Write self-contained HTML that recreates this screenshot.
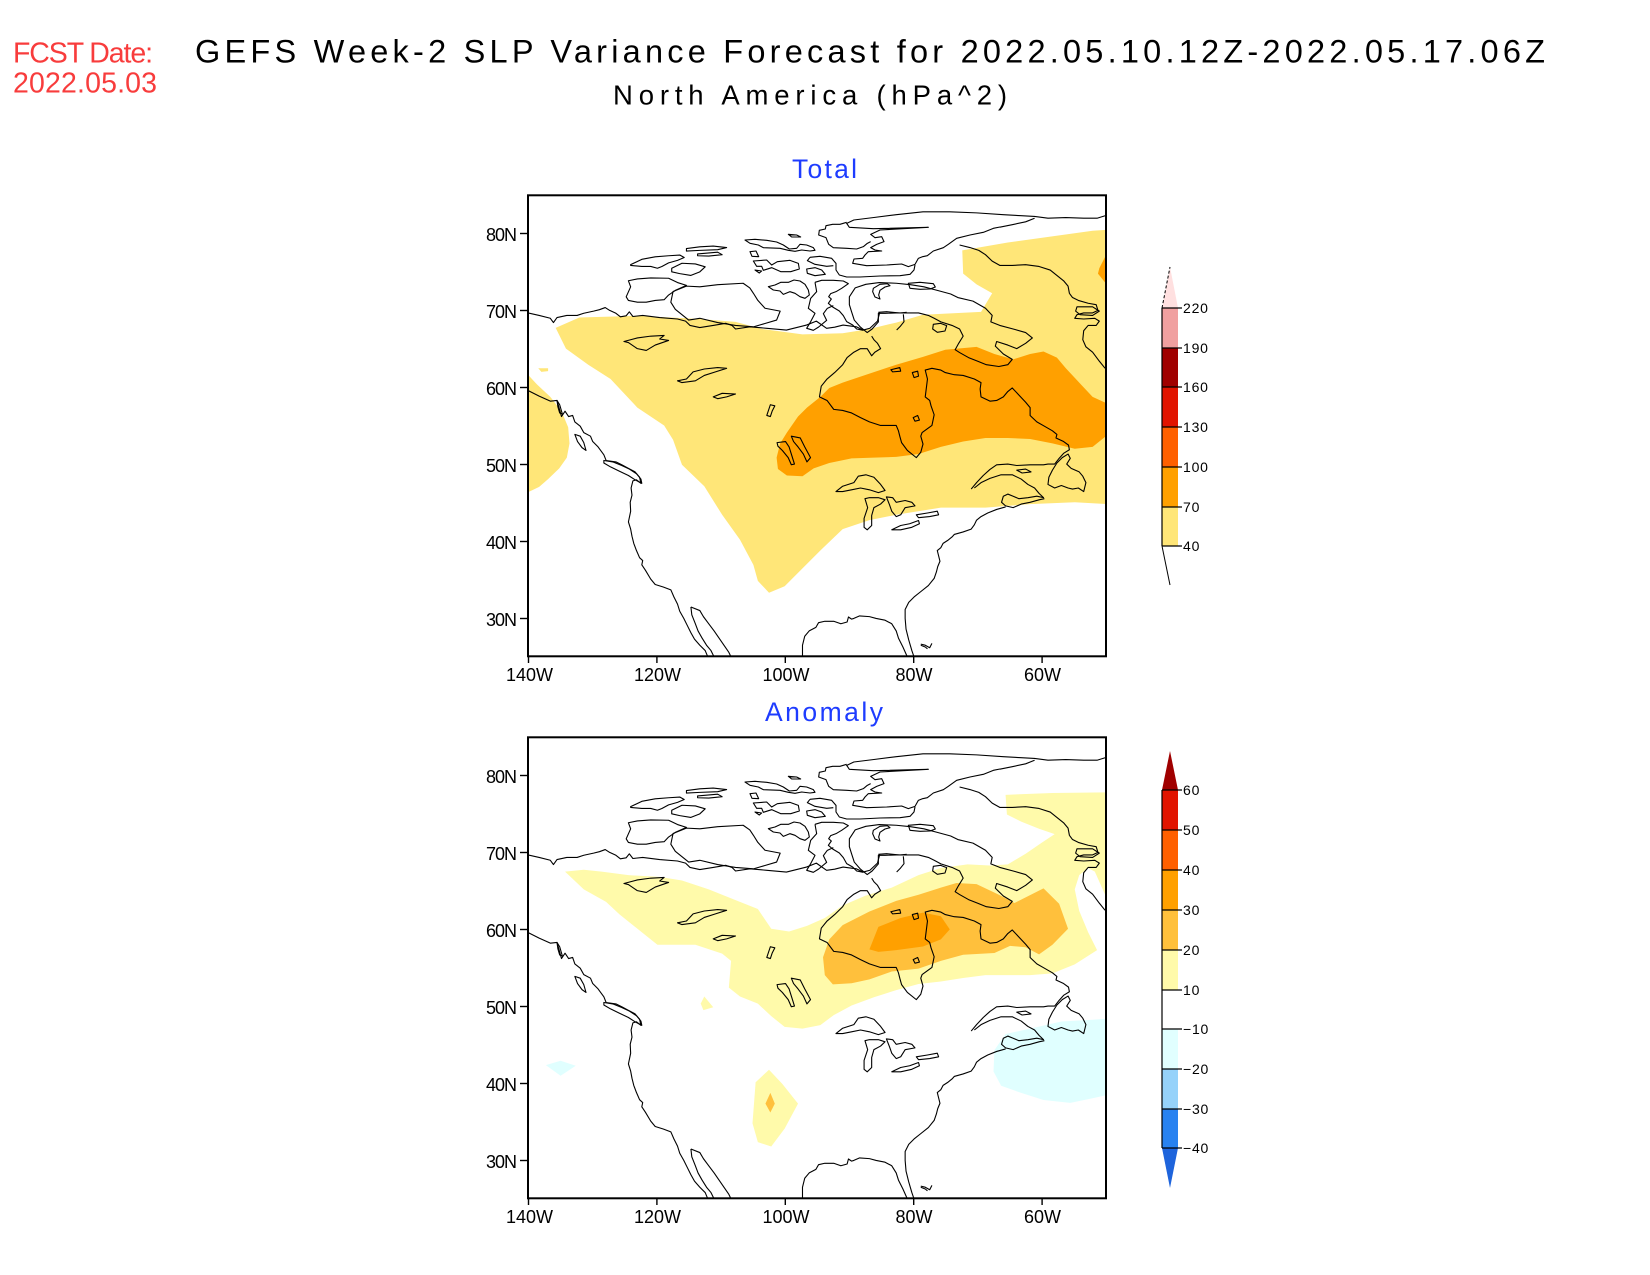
<!DOCTYPE html>
<html>
<head>
<meta charset="utf-8">
<style>
html,body{margin:0;padding:0;background:#fff;}
svg{display:block;}
text{font-family:"Liberation Sans",Arial,sans-serif;}
.cst polyline,.cst polygon{fill:none;stroke:#000;stroke-width:1.1;vector-effect:non-scaling-stroke;stroke-linejoin:round;}
.tk{stroke:#000;stroke-width:1.4;}
.ax{font-size:18px;fill:#000;}
.cb{font-size:14px;fill:#000;letter-spacing:0.8px;}
</style>
</head>
<body>
<svg width="1650" height="1275" viewBox="0 0 1650 1275" xmlns="http://www.w3.org/2000/svg">
<defs>
  <clipPath id="c1"><rect x="528" y="195" width="578" height="462"/></clipPath>
  <clipPath id="c2"><rect x="528" y="737" width="578" height="462"/></clipPath>

  <g id="coastA" class="cst">
    <polyline points="175,455 200,462 225,470 232,482 240,468 262,462 285,462 300,456 322,450 335,446 348,440 358,448 372,456 382,466 395,463 402,452 410,465 432,462 470,468 510,472 528,478 538,490 560,496 590,490 618,484 632,490 640,500 672,494 710,498 754,503 780,495 799,489 821,478 844,498 862,495 881,489 911,494 926,503 941,498 958,478 963,454"/>
    <polyline points="945,520 950,530 958,540 965,555 952,565 945,575 935,555 920,555 905,565 890,580 880,600 862,622 845,640 832,660 828,690 845,700 860,725 880,728 900,735 920,748 940,760 965,770 1000,770 1005,785 1008,800 1012,818 1025,840 1045,860 1055,845 1060,822 1055,800 1058,790 1080,770 1085,740 1078,715 1075,700 1065,690 1068,660 1070,640 1065,615 1080,610 1100,615 1110,622 1130,628 1150,630 1175,640 1190,650 1188,668 1190,690 1210,702 1225,700 1240,690 1250,675 1260,665 1275,685 1290,705 1300,720 1300,742 1315,760 1332,772 1350,785 1360,795 1358,805 1375,815 1386,825 1388,838 1375,848 1365,862 1355,878 1340,878 1330,880 1300,880 1270,882 1250,878 1225,880 1210,893 1195,910 1180,930 1168,948"/>
    <polyline points="1175,945 1190,930 1210,918 1235,908 1260,908 1280,920 1295,935 1310,945 1320,960 1330,972 1315,968 1295,972 1275,975 1262,968 1250,962 1240,968 1236,985 1245,995 1262,1000 1280,990 1300,985 1320,978 1332,975"/>
    <polyline points="1245,998 1225,1005 1205,1015 1190,1025 1180,1035 1175,1048 1168,1060 1150,1068 1130,1075 1125,1082 1115,1092 1105,1100 1100,1112 1092,1120 1095,1135 1098,1150 1093,1165 1090,1180 1085,1198 1072,1218 1055,1235 1040,1250 1028,1265 1020,1285 1020,1310 1022,1340 1028,1370 1035,1400 1040,1418"/>
    <polyline points="790,1418 790,1385 795,1360 805,1345 820,1335 826,1322 840,1318 860,1318 876,1325 890,1320 893,1306 900,1312 905,1310 918,1303 940,1305 955,1310 975,1315 990,1325 1000,1345 1005,1365 1015,1390 1025,1418"/>
    <polyline points="175,672 200,688 225,702 240,700 244,718 250,745 258,730 266,745 275,742 280,760 292,772 300,790 315,800 320,815 332,830 345,852 350,868 372,872 385,880 400,890 415,900 425,915 428,932 418,922 410,925 406,945 408,965 404,985 405,1010 400,1040 405,1060 408,1080 412,1100 418,1120 425,1140 432,1148 430,1160 438,1175 450,1200 460,1215 478,1222 495,1230 502,1250 510,1270 515,1290 524,1310 532,1330 540,1350 548,1368 560,1385 572,1400 578,1418"/>
    <polyline points="540,1278 542,1300 550,1325 556,1345 565,1365 575,1385 585,1400 592,1418"/>
    <polyline points="540,1278 560,1288 568,1305 580,1325 592,1345 603,1365 614,1385 625,1405 630,1418"/>
    <polygon points="345,868 365,872 385,882 402,892 418,905 428,920 430,932 415,922 400,910 380,898 360,886 345,875"/>
    <polygon points="280,795 292,800 300,818 305,840 296,832 286,815"/>
    <polygon points="240,700 246,712 252,738 246,735 242,718"/>
    <polygon points="1340,935 1342,915 1350,895 1360,875 1372,860 1385,850 1390,862 1382,878 1392,890 1410,900 1418,912 1425,930 1420,955 1408,945 1395,948 1385,945 1370,938 1355,945"/>
    <polygon points="1270,895 1290,892 1302,900 1282,903"/>
    <polygon points="865,955 880,940 905,930 915,912 932,908 950,915 965,935 975,952 960,958 940,950 920,945 900,950 880,955"/>
    <polygon points="930,975 936,1000 928,1030 928,1055 935,1062 945,1050 945,1022 950,1000 965,990 975,978 960,972 940,972"/>
    <polygon points="978,970 992,972 1000,985 1020,980 1035,985 1042,995 1020,1000 1010,1020 1000,1025 990,1010 985,992"/>
    <polygon points="990,1062 1010,1050 1030,1045 1050,1036 1052,1045 1035,1055 1010,1062"/>
    <polygon points="1045,1020 1070,1015 1092,1010 1095,1020 1075,1025 1050,1028"/>
    <polygon points="733,818 752,815 760,830 765,850 772,878 765,880 758,860 745,840 735,828"/>
    <polygon points="765,800 785,805 795,830 808,860 800,872 792,850 780,830 770,815"/>
    <polygon points="510,645 530,640 545,620 570,612 600,608 620,610 595,620 570,630 550,645 520,650"/>
    <polygon points="390,535 420,525 450,520 480,518 470,528 490,532 460,545 440,560 420,555 400,538"/>
    <polygon points="590,690 610,680 640,682 620,690 600,695"/>
    <polygon points="710,742 718,712 728,715 722,730 718,745"/>
    <polygon points="988,614 1008,608 1010,618 992,620"/>
    <polygon points="1036,622 1048,618 1050,632 1040,636"/>
    <polygon points="1038,748 1048,742 1052,755 1042,758"/>
    <polyline points="1055,1382 1065,1385 1075,1392 1080,1380"/>
    <polyline points="1055,1385 1065,1390 1070,1395"/>
    <polygon points="405,320 430,305 460,298 490,295 515,293 525,300 510,308 490,315 475,325 465,330 450,325 430,325 405,322"/>
    <polygon points="530,275 560,270 590,268 620,272 600,278 560,280 530,282"/>
    <polygon points="555,290 600,285 610,292 580,296 555,295"/>
    <polygon points="497,330 520,316 550,318 572,326 560,340 540,350 515,345 497,340"/>
    <polygon points="395,410 405,382 400,365 420,360 450,357 490,358 510,370 530,378 505,392 490,405 480,418 460,420 440,425 420,425 400,420"/>
    <polygon points="500,395 530,380 560,382 600,376 657,372 672,385 680,400 690,420 706,442 740,450 732,475 705,485 680,494 640,490 600,482 560,470 535,475 520,460 505,445 495,425"/>
    <polyline points="1020,455 1050,455 1072,462 1085,470 1100,480 1125,490 1142,500 1150,520 1140,540 1132,558 1142,566 1162,580 1182,590 1202,600 1230,605 1250,600 1260,585 1240,570 1222,548 1225,535 1250,545 1270,555 1290,540 1305,525 1290,510 1262,500 1232,490 1212,480 1215,462 1200,442 1172,422 1138,412 1122,402 1092,392 1062,382 1032,376 1000,372 962,370 932,375 908,385 895,410 895,432 900,452 906,475 920,495 935,510 946,500 960,480 960,456 975,456 1000,455 1020,455"/>
    <polyline points="888,205 905,195 950,188 1000,180 1060,172 1120,172 1180,175 1240,180 1280,183 1310,185 1340,190 1380,188 1420,190 1450,190 1468,183"/>
    <polyline points="1232,215 1260,208 1290,200 1310,190"/>
    <polyline points="1142,265 1165,272 1185,280 1200,292 1215,310 1232,322 1260,322 1290,320 1320,325 1345,335 1360,350 1375,365 1385,380 1388,400 1395,412 1408,420 1430,428 1448,432 1452,448 1440,455 1420,455 1405,460 1400,470 1420,472 1445,470 1455,478 1448,490 1430,490 1420,505 1418,530 1425,550 1440,565 1455,590 1468,610"/>
    <polygon points="1405,438 1440,438 1455,450 1440,462 1412,460 1402,450"/>
  </g>

  <g id="coastB" class="cst">
    <polyline points="440,85 448,97 520,101 685,97 540,105 512,118 525,128 545,125 552,140 530,148 512,158 525,165 545,168 505,170 495,180 488,190 462,192 458,205 500,212 560,210 605,207 625,215 645,208 655,190 668,185 682,182 700,168 730,158 745,148 770,130 810,120 850,112 880,100 900,96"/>
    <polyline points="440,82 420,88 398,88 378,92 376,102 358,106 356,120 378,128 386,148 400,158 440,160 470,162 490,155 502,145 512,140"/>
    <polyline points="330,187 360,184 395,190 408,205 408,225 418,240 440,246 480,246 540,243 600,242 630,238 642,225 645,210"/>
    <polyline points="330,187 322,197 345,208 380,214 400,212"/>
    <polygon points="135,135 165,133 200,136 230,141 250,150 268,162 290,160 300,148 320,150 340,158 345,166 330,168 305,165 285,169 265,166 240,160 190,158 175,150 150,145"/>
    <polygon points="265,118 290,120 302,126 275,126"/>
    <polygon points="160,198 200,195 215,210 232,200 270,196 295,205 298,222 272,230 242,230 215,218 190,226 185,214 170,214"/>
    <polygon points="150,170 168,168 176,185 156,184"/>
    <polygon points="165,225 185,228 178,234"/>
    <polygon points="320,222 345,218 365,225 376,238 345,242 322,235"/>
    <polygon points="205,275 225,270 242,262 265,262 282,255 300,258 315,268 325,285 328,300 315,310 300,305 285,295 270,290 250,298 240,288 220,285"/>
    <polyline points="345,262 365,256 400,256 430,258 445,266 425,280 408,290 392,296 386,305 394,312 385,325 398,336 418,348 430,362 440,380 458,390 470,402 490,406"/>
    <polyline points="345,262 350,290 332,310 325,340 345,355 332,380 320,400 340,406 356,396 380,376 370,356 382,340 400,332"/>
    <polygon points="520,280 540,268 562,266 570,272 555,276 540,286 536,300 540,312 525,306 518,290"/>
    <polygon points="625,265 660,262 700,266 706,276 690,282 660,283 630,280"/>
    <polygon points="700,388 722,385 740,392 735,408 712,412 698,402"/>
    <polyline points="535,352 560,350 600,354 620,352"/>
    <polyline points="610,358 612,380 600,395 590,405"/>
  </g>
</defs>

<!-- Titles -->
<text x="13" y="62.7" font-size="28.5" fill="#f83c3c" textLength="140" lengthAdjust="spacing">FCST Date:</text>
<text x="13" y="92.7" font-size="28.5" fill="#f83c3c" textLength="144" lengthAdjust="spacing">2022.05.03</text>
<text x="195" y="62.5" font-size="32.5" fill="#000" textLength="1350" lengthAdjust="spacing">GEFS Week-2 SLP Variance Forecast for 2022.05.10.12Z-2022.05.17.06Z</text>
<text x="613" y="104.3" font-size="27.5" fill="#000" textLength="394" lengthAdjust="spacing">North America (hPa^2)</text>

<text x="792" y="178" font-size="26.5" fill="#1e3cff" textLength="65" lengthAdjust="spacing">Total</text>
<text x="765" y="721" font-size="26.5" fill="#1e3cff" textLength="118" lengthAdjust="spacing">Anomaly</text>

<!-- ===== TOP PANEL ===== -->
<g clip-path="url(#c1)">
  <g transform="matrix(0.44633 0 0 0.35731 449.89 150.34)">
    <polygon fill="#ffe678" points="237,497 290,468 420,463 560,472 640,480 700,500 790,515 880,512 940,500 1000,482 1060,460 1190,452 1215,400 1180,375 1150,345 1148,280 1250,258 1440,225 1475,222 1475,990 1400,985 1300,990 1200,1000 1100,1000 1000,1020 940,1035 880,1060 830,1120 790,1170 750,1220 715,1238 690,1205 680,1160 650,1090 610,1020 570,940 520,880 500,810 480,770 420,720 360,640 310,600 260,555"/>
    <polygon fill="#ffe678" points="170,628 175,628 195,655 225,690 250,730 265,775 268,820 262,860 245,890 220,920 200,942 175,957 170,957"/>
    <polygon fill="#ffe678" points="198,610 220,610 220,618 205,620"/>
    <polygon fill="#ffa000" points="830,690 850,665 880,650 940,625 1000,600 1060,578 1110,558 1180,550 1220,570 1262,585 1300,570 1330,563 1360,580 1380,610 1410,650 1440,690 1475,710 1475,795 1440,830 1400,835 1350,820 1300,808 1250,805 1200,805 1150,815 1100,830 1050,850 1000,858 950,860 900,862 850,875 815,890 790,912 755,910 735,892 732,860 740,820 755,790 780,745 800,720"/>
    <polygon fill="#ffa000" points="1475,298 1468,298 1455,330 1452,345 1468,370 1475,370"/>
  </g>
  <use href="#coastA" transform="matrix(0.44633 0 0 0.35731 449.89 150.34)"/>
  <use href="#coastB" transform="matrix(0.333333 0 0 0.333333 700 195)"/>
</g>
<rect x="528" y="195.3" width="578" height="461" fill="none" stroke="#000" stroke-width="2"/>

<g class="tk">
  <line x1="520" y1="233.5" x2="528" y2="233.5"/>
  <line x1="520" y1="310.5" x2="528" y2="310.5"/>
  <line x1="520" y1="387.5" x2="528" y2="387.5"/>
  <line x1="520" y1="464.5" x2="528" y2="464.5"/>
  <line x1="520" y1="541.5" x2="528" y2="541.5"/>
  <line x1="520" y1="618.5" x2="528" y2="618.5"/>
  <line x1="528.5" y1="657" x2="528.5" y2="663"/>
  <line x1="656.9" y1="657" x2="656.9" y2="663"/>
  <line x1="785.3" y1="657" x2="785.3" y2="663"/>
  <line x1="913.7" y1="657" x2="913.7" y2="663"/>
  <line x1="1042.1" y1="657" x2="1042.1" y2="663"/>
</g>
<g class="ax" text-anchor="end">
  <text x="517" y="241" textLength="31" lengthAdjust="spacing">80N</text>
  <text x="517" y="318" textLength="31" lengthAdjust="spacing">70N</text>
  <text x="517" y="395" textLength="31" lengthAdjust="spacing">60N</text>
  <text x="517" y="472" textLength="31" lengthAdjust="spacing">50N</text>
  <text x="517" y="549" textLength="31" lengthAdjust="spacing">40N</text>
  <text x="517" y="626" textLength="31" lengthAdjust="spacing">30N</text>
</g>
<g class="ax" font-size="17" text-anchor="middle">
  <text x="529.5" y="681">140W</text>
  <text x="657.5" y="681">120W</text>
  <text x="786" y="681">100W</text>
  <text x="914" y="681">80W</text>
  <text x="1042.5" y="681">60W</text>
</g>

<!-- top colorbar -->
<g>
  <polygon points="1162,308 1178,308 1170,267" fill="#ffe0e0"/>
  <line x1="1162" y1="308" x2="1170" y2="267" stroke="#000" stroke-width="1" stroke-dasharray="3,2"/>
  <rect x="1162" y="308" width="16" height="40" fill="#f0a0a0"/>
  <rect x="1162" y="348" width="16" height="39" fill="#a00000"/>
  <rect x="1162" y="387" width="16" height="40" fill="#e11400"/>
  <rect x="1162" y="427" width="16" height="40" fill="#ff6000"/>
  <rect x="1162" y="467" width="16" height="40" fill="#ffa000"/>
  <rect x="1162" y="507" width="16" height="39" fill="#ffe678"/>
  <line x1="1162" y1="546" x2="1170" y2="585" stroke="#000" stroke-width="1"/>
  <line x1="1162" y1="308" x2="1162" y2="546" stroke="#000" stroke-width="1.2"/>
  <g stroke="#000" stroke-width="1.2">
    <line x1="1162" y1="308" x2="1182" y2="308"/>
    <line x1="1162" y1="348" x2="1182" y2="348"/>
    <line x1="1162" y1="387" x2="1182" y2="387"/>
    <line x1="1162" y1="427" x2="1182" y2="427"/>
    <line x1="1162" y1="467" x2="1182" y2="467"/>
    <line x1="1162" y1="507" x2="1182" y2="507"/>
    <line x1="1162" y1="546" x2="1182" y2="546"/>
  </g>
  <g class="cb">
    <text x="1183" y="313">220</text>
    <text x="1183" y="353">190</text>
    <text x="1183" y="392">160</text>
    <text x="1183" y="432">130</text>
    <text x="1183" y="472">100</text>
    <text x="1183" y="512">70</text>
    <text x="1183" y="551">40</text>
  </g>
</g>

<!-- ===== BOTTOM PANEL ===== -->
<g clip-path="url(#c2)">
  <g transform="matrix(0.44633 0 0 0.357 449.89 689.5)">
    <polygon fill="#fffaaa" points="258,510 300,505 340,510 400,520 470,525 520,535 580,560 640,590 690,615 720,670 760,678 800,662 840,640 880,605 930,578 990,555 1050,520 1100,500 1160,490 1210,493 1250,490 1290,460 1325,430 1355,405 1320,390 1280,370 1248,350 1245,295 1350,290 1475,288 1475,578 1468,575 1445,510 1430,500 1410,520 1400,560 1410,620 1430,680 1450,730 1400,770 1350,795 1300,800 1250,800 1200,800 1150,808 1100,818 1050,825 1000,842 950,862 900,885 860,912 830,940 790,950 750,945 720,915 690,880 650,860 625,835 628,790 630,760 610,740 550,715 465,715 430,680 380,630 350,595 300,560"/>
    <polygon fill="#ffc03c" points="850,700 880,660 940,622 1000,592 1050,575 1100,555 1135,542 1180,545 1230,575 1265,598 1330,557 1365,600 1385,670 1350,715 1320,742 1290,722 1255,718 1220,738 1150,743 1100,760 1050,782 990,790 940,812 900,823 858,826 840,800 836,750"/>
    <polygon fill="#ffa000" points="960,665 1010,640 1060,625 1100,635 1120,672 1100,700 1060,720 1000,730 960,735 940,728"/>
    <polygon fill="#fffaaa" points="570,860 590,890 568,898 562,880"/>
    <polygon fill="#fffaaa" points="715,1065 745,1105 780,1160 750,1230 720,1280 690,1268 678,1215 685,1100"/>
    <polygon fill="#ffc03c" points="718,1130 728,1160 718,1185 707,1160"/>
    <polygon fill="#e0ffff" points="215,1052 248,1040 282,1054 248,1082"/>
    <polygon fill="#e0ffff" points="1245,965 1300,950 1370,930 1440,925 1475,922 1475,1135 1440,1145 1390,1158 1330,1150 1280,1130 1235,1110 1218,1070 1220,1010"/>
  </g>
  <use href="#coastA" transform="matrix(0.44633 0 0 0.35731 449.89 692.34)"/>
  <use href="#coastB" transform="matrix(0.333333 0 0 0.333333 700 737)"/>
</g>
<rect x="528" y="737.3" width="578" height="461" fill="none" stroke="#000" stroke-width="2"/>

<g class="tk">
  <line x1="520" y1="775.5" x2="528" y2="775.5"/>
  <line x1="520" y1="852.5" x2="528" y2="852.5"/>
  <line x1="520" y1="929.5" x2="528" y2="929.5"/>
  <line x1="520" y1="1006.5" x2="528" y2="1006.5"/>
  <line x1="520" y1="1083.5" x2="528" y2="1083.5"/>
  <line x1="520" y1="1160.5" x2="528" y2="1160.5"/>
  <line x1="528.5" y1="1199" x2="528.5" y2="1205"/>
  <line x1="656.9" y1="1199" x2="656.9" y2="1205"/>
  <line x1="785.3" y1="1199" x2="785.3" y2="1205"/>
  <line x1="913.7" y1="1199" x2="913.7" y2="1205"/>
  <line x1="1042.1" y1="1199" x2="1042.1" y2="1205"/>
</g>
<g class="ax" text-anchor="end">
  <text x="517" y="783" textLength="31" lengthAdjust="spacing">80N</text>
  <text x="517" y="860" textLength="31" lengthAdjust="spacing">70N</text>
  <text x="517" y="937" textLength="31" lengthAdjust="spacing">60N</text>
  <text x="517" y="1014" textLength="31" lengthAdjust="spacing">50N</text>
  <text x="517" y="1091" textLength="31" lengthAdjust="spacing">40N</text>
  <text x="517" y="1168" textLength="31" lengthAdjust="spacing">30N</text>
</g>
<g class="ax" font-size="17" text-anchor="middle">
  <text x="529.5" y="1223">140W</text>
  <text x="657.5" y="1223">120W</text>
  <text x="786" y="1223">100W</text>
  <text x="914" y="1223">80W</text>
  <text x="1042.5" y="1223">60W</text>
</g>

<!-- bottom colorbar -->
<g>
  <polygon points="1162,790 1178,790 1170,751" fill="#a00000"/>
  <rect x="1162" y="790" width="16" height="40" fill="#e11400"/>
  <rect x="1162" y="830" width="16" height="40" fill="#ff6000"/>
  <rect x="1162" y="870" width="16" height="40" fill="#ffa000"/>
  <rect x="1162" y="910" width="16" height="40" fill="#ffc03c"/>
  <rect x="1162" y="950" width="16" height="40" fill="#fffaaa"/>
  <rect x="1162" y="990" width="16" height="39" fill="#ffffff"/>
  <rect x="1162" y="1029" width="16" height="40" fill="#e1ffff"/>
  <rect x="1162" y="1069" width="16" height="40" fill="#96d2fa"/>
  <rect x="1162" y="1109" width="16" height="39" fill="#2882f0"/>
  <polygon points="1162,1148 1178,1148 1170,1188" fill="#1e64dc"/>
  <line x1="1162" y1="790" x2="1162" y2="1148" stroke="#000" stroke-width="1.2"/>
  <g stroke="#000" stroke-width="1.2">
    <line x1="1162" y1="790" x2="1182" y2="790"/>
    <line x1="1162" y1="830" x2="1182" y2="830"/>
    <line x1="1162" y1="870" x2="1182" y2="870"/>
    <line x1="1162" y1="910" x2="1182" y2="910"/>
    <line x1="1162" y1="950" x2="1182" y2="950"/>
    <line x1="1162" y1="990" x2="1182" y2="990"/>
    <line x1="1162" y1="1029" x2="1182" y2="1029"/>
    <line x1="1162" y1="1069" x2="1182" y2="1069"/>
    <line x1="1162" y1="1109" x2="1182" y2="1109"/>
    <line x1="1162" y1="1148" x2="1182" y2="1148"/>
  </g>
  <g class="cb">
    <text x="1183" y="795">60</text>
    <text x="1183" y="835">50</text>
    <text x="1183" y="875">40</text>
    <text x="1183" y="915">30</text>
    <text x="1183" y="955">20</text>
    <text x="1183" y="995">10</text>
    <text x="1183" y="1034">−10</text>
    <text x="1183" y="1074">−20</text>
    <text x="1183" y="1114">−30</text>
    <text x="1183" y="1153">−40</text>
  </g>
</g>
</svg>
</body>
</html>
